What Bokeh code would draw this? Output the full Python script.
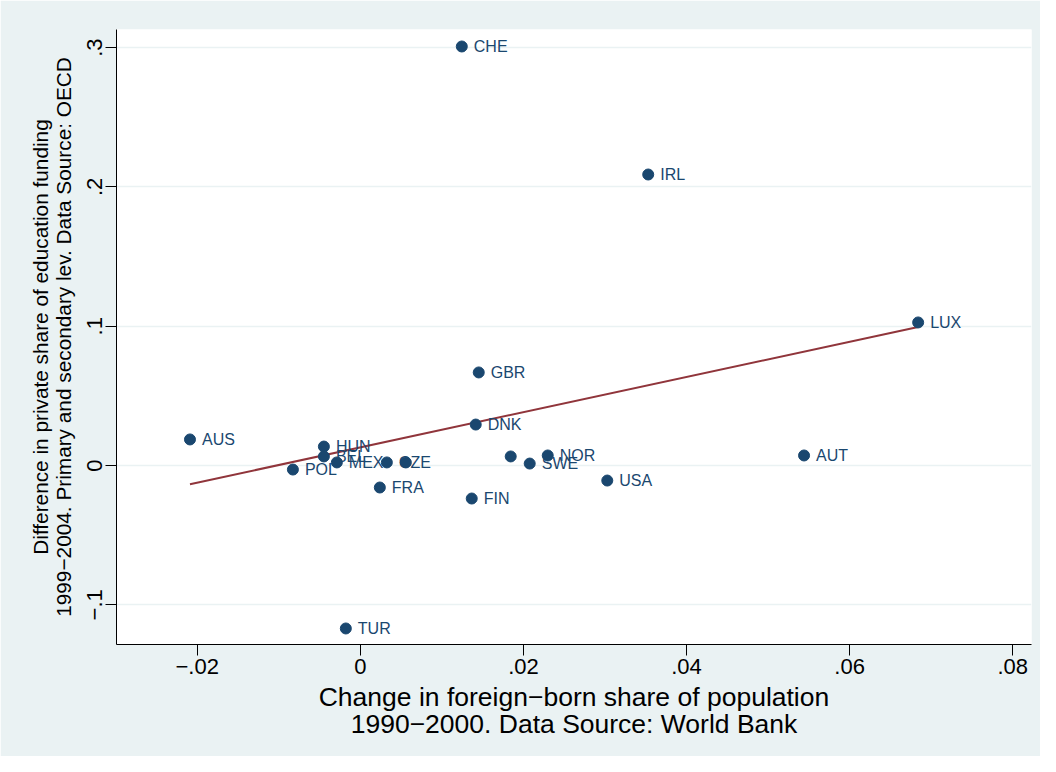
import numpy as np
from bokeh.plotting import figure
from bokeh.models import ColumnDataSource, FixedTicker, Range1d, LabelSet
from bokeh.core.properties import value
from bokeh.embed import file_html
from bokeh.resources import INLINE

countries = ["CHE", "IRL", "LUX", "GBR", "DNK", "AUS", "HUN", "BEL", "MEX", "POL",
             "CZE", "", "FRA", "TUR", "FIN", "", "SWE", "NOR", "USA", "AUT"]
foreign_change = [0.01244, 0.0353, 0.0684, 0.01452, 0.01415, -0.02089, -0.00447, -0.00447,
                  -0.00288, -0.00827, 0.00325, 0.00558, 0.00239, -0.00178, 0.01366, 0.01844,
                  0.02077, 0.02298, 0.03028, 0.05441]
private_diff = [0.3008, 0.2089, 0.1027, 0.0668, 0.0294, 0.0187, 0.0136, 0.0065, 0.0022, -0.0029,
                0.0022, 0.0022, -0.0158, -0.117, -0.0237, 0.0065, 0.0014, 0.0072, -0.0108, 0.0072]

x_ticks = [-0.02, 0, 0.02, 0.04, 0.06, 0.08]
x_tick_labels = ["\u2212.02", "0", ".02", ".04", ".06", ".08"]
y_ticks = [-0.1, 0, 0.1, 0.2, 0.3]
y_tick_labels = ["\u2212.1", "0", ".1", ".2", ".3"]

BG = "#EAF2F3"
NAVY = "#1A476F"
MAROON = "#90353B"

p = figure(width=1040, height=756, output_backend="svg", toolbar_location=None,
           x_range=Range1d(-0.0299, 0.0823), y_range=Range1d(-0.1285, 0.313),
           min_border_left=116, min_border_right=9, min_border_top=29, min_border_bottom=112)
p.border_fill_color = BG
p.background_fill_color = "white"
p.outline_line_color = None

# fit line
xs = np.array(foreign_change)
ys = np.array(private_diff)
b, a = np.polyfit(xs, ys, 1)
fx = np.array([xs.min(), xs.max()])
p.line(fx, a + b * fx, line_color=MAROON, line_width=2)

src = ColumnDataSource(dict(x=foreign_change, y=private_diff, name=countries))
p.scatter("x", "y", source=src, size=11, fill_color=NAVY, line_color=NAVY)
labels = LabelSet(x="x", y="y", text="name", source=src, x_offset=12, y_offset=0,
                  text_baseline="middle", text_align="left", text_color=NAVY,
                  text_font=value("Liberation Sans"), text_font_size="16px")
p.add_layout(labels)

p.xgrid.visible = False
p.ygrid.ticker = FixedTicker(ticks=y_ticks)
p.ygrid.grid_line_color = BG
p.ygrid.grid_line_width = 1.5

p.xaxis.ticker = FixedTicker(ticks=x_ticks)
p.yaxis.ticker = FixedTicker(ticks=y_ticks)
p.xaxis.major_label_overrides = {t: l for t, l in zip(x_ticks, x_tick_labels)}
p.yaxis.major_label_overrides = {t: l for t, l in zip(y_ticks, y_tick_labels)}
p.yaxis.major_label_orientation = "vertical"

for ax in (p.xaxis, p.yaxis):
    ax.axis_line_color = "black"
    ax.axis_line_width = 1
    ax.major_tick_line_color = "black"
    ax.major_tick_in = 0
    ax.major_tick_out = 11
    ax.minor_tick_line_color = None
    ax.major_label_text_font = "Liberation Sans"
    ax.major_label_text_font_size = "22px"
    ax.major_label_text_color = "black"
    ax.axis_label_text_font = "Liberation Sans"
    ax.axis_label_text_font_style = "normal"
    ax.axis_label_text_color = "black"

p.xaxis.major_label_standoff = 3
p.yaxis.major_label_standoff = 3
p.xaxis.axis_label = "Change in foreign\u2212born share of population\n1990\u22122000. Data Source: World Bank"
p.xaxis.axis_label_text_font_size = "26.5px"
p.xaxis.axis_label_text_line_height = 0.9
p.xaxis.axis_label_standoff = 5
p.yaxis.axis_label = "Difference in private share of education funding\n1999\u22122004. Primary and secondary lev. Data Source: OECD"
p.yaxis.axis_label_text_font_size = "20.8px"
p.yaxis.axis_label_text_line_height = 1.0
p.yaxis.axis_label_standoff = 10

open("out.html", "w").write(file_html(p, INLINE))
